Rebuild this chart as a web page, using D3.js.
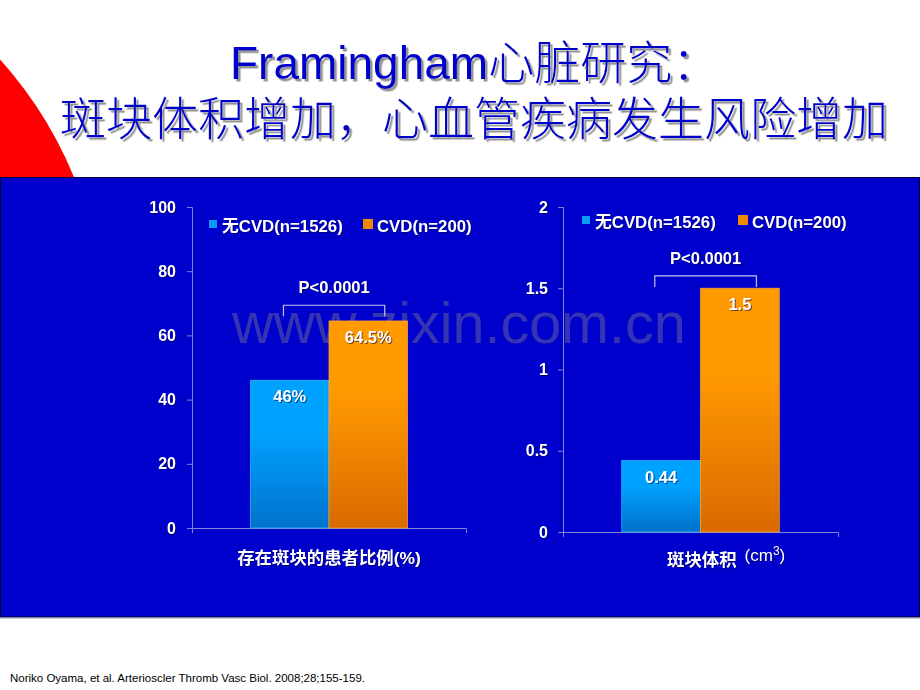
<!DOCTYPE html>
<html>
<head>
<meta charset="utf-8">
<script src="https://cdn.jsdelivr.net/npm/d3@7"></script>
<style>
  html, body { margin: 0; padding: 0; background: #fff; }
  svg { display: block; }
  text { font-family: "Liberation Sans", Arial, "Noto Sans CJK SC", sans-serif; }
</style>
</head>
<body>
<svg id="chart" width="920" height="690"></svg>
<script>
// ---------- data ----------
const titleLine1 = "Framingham心脏研究：";
const titleLine2 = "斑块体积增加，心血管疾病发生风险增加";
const groups = ["无CVD(n=1526)", "CVD(n=200)"];
const chart1Category = ["存在斑块的患者比例(%)"];
const chart1Values = [46, 64.5];
const chart1ValueLabels = ["46%", "64.5%"];
const chart1Ticks = [0, 20, 40, 60, 80, 100];
const chart2Category = ["斑块体积"];
const chart2Values = [0.44, 1.5];
const chart2ValueLabels = ["0.44", "1.5"];
const chart2Ticks = [0, 0.5, 1, 1.5, 2];
const pValueText = "P<0.0001";
const watermark = "www.zixin.com.cn";
const footnote = "Noriko Oyama, et al. Arterioscler Thromb Vasc Biol. 2008;28;155-159.";

// ---------- setup ----------
const svg = d3.select("#chart");
const defs = svg.append("defs");

function grad(id, top, bottom) {
  const g = defs.append("linearGradient").attr("id", id)
    .attr("x1", 0).attr("y1", 0).attr("x2", 0).attr("y2", 1);
  g.append("stop").attr("offset", "0%").attr("stop-color", top);
  g.append("stop").attr("offset", "35%").attr("stop-color", top);
  g.append("stop").attr("offset", "100%").attr("stop-color", bottom);
}
grad("gBlue", "#00A2FF", "#0072CC");
grad("gOrange", "#FF9900", "#D96A00");
const fills = ["url(#gBlue)", "url(#gOrange)"];
const strokes = ["#30C0FF", "#FFAA33"];
const legendFills = ["#0A9CF0", "#F08A00"];

const tf = defs.append("filter").attr("id", "titleShadow")
  .attr("x", "-5%").attr("y", "-20%").attr("width", "110%").attr("height", "150%");
tf.append("feDropShadow").attr("dx", 2.5).attr("dy", 2.5).attr("stdDeviation", 0.6)
  .attr("flood-color", "#888888").attr("flood-opacity", 0.9);

// ---------- header ----------
svg.append("circle").attr("cx", -300).attr("cy", 330).attr("r", 404).attr("fill", "#FF0000");

function titleText(txt, x, y) {
  svg.append("text").attr("x", x).attr("y", y).text(txt)
    .attr("font-size", 46).attr("font-weight", 300).attr("fill", "#0000CC")
    .attr("filter", "url(#titleShadow)");
}
titleText(titleLine1, 230, 79);
titleText(titleLine2, 60, 135);

// ---------- panel ----------
svg.append("rect").attr("x", 0.5).attr("y", 177.5).attr("width", 919).attr("height", 439.5)
  .attr("fill", "#0000CC").attr("stroke", "#000033").attr("stroke-width", 1);
svg.append("line").attr("x1", 0).attr("x2", 920).attr("y1", 618.5).attr("y2", 618.5)
  .attr("stroke", "#cccccc");

svg.append("text").attr("x", 232).attr("y", 343).text(watermark)
  .attr("font-size", 57.5).attr("fill", "#3434B4");

const shadow = "drop-shadow(1px 1px 0px rgba(0,0,60,0.55))";

function drawChart(cfg) {
  const g = svg.append("g");
  const y = d3.scaleLinear().domain(cfg.yDomain).range([cfg.y0, cfg.y1]);
  const x0 = d3.scaleBand().domain(cfg.category).range([cfg.xLeft, cfg.xRight]);
  const x1 = d3.scaleBand().domain(groups).range([0, x0.bandwidth()]).paddingOuter(0.745);

  // y axis
  const ay = g.append("g").attr("transform", `translate(${cfg.xLeft},0)`)
    .call(d3.axisLeft(y).tickValues(cfg.ticks).tickSize(5).tickPadding(cfg.tickPad)
      .tickFormat(d => String(d)));
  ay.selectAll("path, line").attr("stroke", "#8282D6");
  ay.selectAll("text").attr("fill", "#fff").attr("font-size", 16).attr("font-weight", "bold")
    .attr("font-family", "Liberation Sans, Arial, sans-serif").style("filter", shadow);

  // x axis
  const ax = g.append("g").attr("transform", `translate(0,${cfg.y0})`)
    .call(d3.axisBottom(x0).tickValues([]).tickSizeOuter(5));
  ax.selectAll("path, line").attr("stroke", "#8282D6");

  // bars
  groups.forEach((grp, i) => {
    const bx = x0(cfg.category[0]) + x1(grp);
    g.append("rect")
      .attr("x", bx).attr("y", y(cfg.values[i]))
      .attr("width", x1.bandwidth()).attr("height", y(0) - y(cfg.values[i]))
      .attr("fill", fills[i]).attr("stroke", strokes[i]).attr("stroke-width", 1)
      .attr("stroke-opacity", 0.7);
    g.append("text")
      .attr("x", bx + x1.bandwidth() / 2).attr("y", y(cfg.values[i]) + 22)
      .attr("text-anchor", "middle").attr("fill", "#fff")
      .attr("font-size", 16.5).attr("font-weight", "bold").text(cfg.labels[i])
      .style("filter", shadow);
  });

  // p-value bracket
  const bl = x0(cfg.category[0]) + x1(groups[0]) + x1.bandwidth() * 0.42;
  const br = x0(cfg.category[0]) + x1(groups[1]) + x1.bandwidth() * 0.71;
  const by = y(cfg.bracketValue);
  g.append("path")
    .attr("d", `M${bl},${by + 11}V${by}H${br}V${by + 11}`)
    .attr("fill", "none").attr("stroke", "#C4C4E8").attr("stroke-width", 1.2);
  g.append("text").attr("x", (bl + br) / 2).attr("y", by - 12)
    .attr("text-anchor", "middle").attr("fill", "#fff")
    .attr("font-size", 16.5).attr("font-weight", "bold").text(pValueText)
    .style("filter", shadow);

  // legend
  groups.forEach((grp, i) => {
    const lx = cfg.legendX[i];
    const sz = i === 0 ? 8 : 10;
    g.append("rect").attr("x", lx).attr("y", cfg.legendY - 13 + (i === 0 ? 1 : 0))
      .attr("width", sz).attr("height", sz).attr("fill", legendFills[i]);
    g.append("text").attr("x", lx + (i === 0 ? 13 : 14)).attr("y", cfg.legendY)
      .attr("fill", "#fff").attr("font-size", 16.8).attr("font-weight", "bold").text(grp)
      .style("filter", shadow);
  });
  return { x0, y, g };
}

const c1 = drawChart({
  yDomain: [0, 100], y0: 528, y1: 207, xLeft: 192, xRight: 466,
  category: chart1Category, values: chart1Values, labels: chart1ValueLabels,
  ticks: chart1Ticks, tickPad: 11, bracketValue: 69.4,
  legendX: [209, 363], legendY: 232
});
c1.g.append("text")
  .attr("x", c1.x0(chart1Category[0]) + c1.x0.bandwidth() / 2).attr("y", 564)
  .attr("text-anchor", "middle").attr("fill", "#fff").attr("font-size", 17.4)
  .attr("font-weight", "bold").text(chart1Category[0]).style("filter", shadow);

const c2 = drawChart({
  yDomain: [0, 2], y0: 532, y1: 207, xLeft: 563, xRight: 838,
  category: chart2Category, values: chart2Values, labels: chart2ValueLabels,
  ticks: chart2Ticks, tickPad: 10, bracketValue: 1.576,
  legendX: [582, 738], legendY: 228
});
const xl = c2.g.append("text").attr("x", 667).attr("y", 566).attr("fill", "#fff")
  .style("filter", shadow);
xl.append("tspan").attr("font-size", 17.4).attr("font-weight", "bold").text(chart2Category[0]);
xl.append("tspan").attr("dx", 8).attr("dy", -5).attr("font-size", 17).text("(cm");
xl.append("tspan").attr("dy", -6).attr("font-size", 12).text("3");
xl.append("tspan").attr("dy", 6).attr("font-size", 17).text(")");

// ---------- footnote ----------
svg.append("text").attr("x", 10).attr("y", 682).attr("font-size", 11.5).attr("fill", "#000")
  .text(footnote);
</script>
</body>
</html>
